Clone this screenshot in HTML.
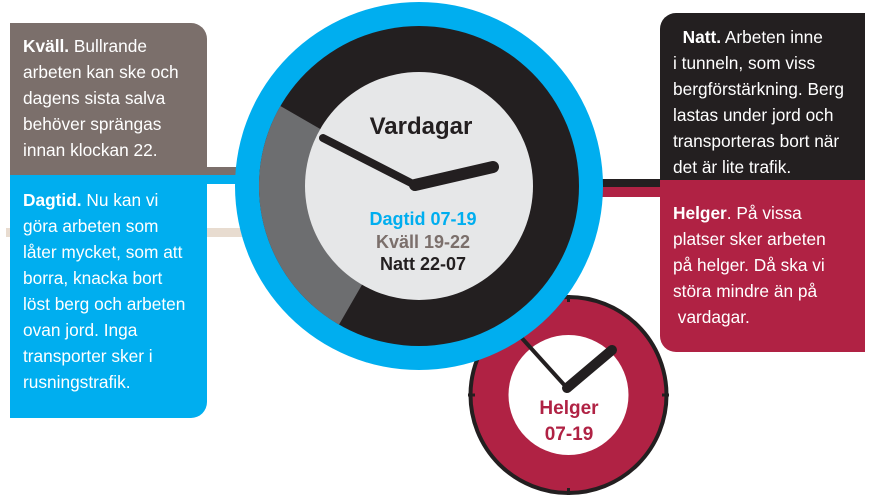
<!DOCTYPE html>
<html><head><meta charset="utf-8"><style>
body{margin:0;width:874px;height:502px;background:#fff;position:relative;overflow:hidden;font-family:"Liberation Sans",sans-serif}
.box{position:absolute;color:#fff;font-size:17.3px;line-height:26px;letter-spacing:0px;box-sizing:border-box}
.box b{font-weight:bold}
</style></head><body>
<div style="position:absolute;left:6px;top:228px;width:240px;height:9px;background:#e8dcd0"></div>
<div style="position:absolute;left:200px;top:167px;width:45px;height:8px;background:#7b6f6b"></div>
<div style="position:absolute;left:200px;top:175px;width:45px;height:9px;background:#00aeef"></div>
<div style="position:absolute;left:595px;top:179px;width:70px;height:8px;background:#231f20"></div>
<div style="position:absolute;left:595px;top:187px;width:70px;height:10px;background:#b02244"></div>
<div class="box" style="left:10px;top:23px;width:197px;height:152px;background:#7b6f6b;border-top-right-radius:16px;padding:10px 0 0 13px"><b>Kväll.</b> Bullrande<br>arbeten kan ske och<br>dagens sista salva<br>behöver sprängas<br>innan klockan 22.</div>
<div class="box" style="left:10px;top:175px;width:197px;height:243px;background:#00aeef;border-bottom-right-radius:16px;padding:12px 0 0 13px"><b>Dagtid.</b> Nu kan vi<br>göra arbeten som<br>låter mycket, som att<br>borra, knacka bort<br>löst berg och arbeten<br>ovan jord. Inga<br>transporter sker i<br>rusningstrafik.</div>
<div class="box" style="left:660px;top:13px;width:205px;height:167px;background:#231f20;border-top-left-radius:16px;padding:11px 0 0 13px">&nbsp;&nbsp;<b>Natt.</b> Arbeten inne<br>i tunneln, som viss<br>bergförstärkning. Berg<br>lastas under jord och<br>transporteras bort när<br>det är lite trafik.</div>
<div class="box" style="left:660px;top:180px;width:205px;height:172px;background:#b02244;border-bottom-left-radius:16px;padding:20px 0 0 13px"><b>Helger</b>. På vissa<br>platser sker arbeten<br>på helger. Då ska vi<br>störa mindre än på<br>&nbsp;vardagar.</div>
<svg width="874" height="502" style="position:absolute;left:0;top:0">
<g>
<circle cx="568.5" cy="395" r="98" fill="#b02244" stroke="#231f20" stroke-width="4"/>
<circle cx="568.5" cy="395" r="60" fill="#fff"/>
<g stroke="#231f20" stroke-width="3"><line x1="568.5" y1="295" x2="568.5" y2="302"/><line x1="568.5" y1="488" x2="568.5" y2="495"/><line x1="468" y1="395" x2="475" y2="395"/><line x1="662" y1="395" x2="669" y2="395"/></g>
<line x1="567" y1="388" x2="510" y2="325" stroke="#231f20" stroke-width="4"/>
<line x1="567" y1="388" x2="612" y2="350" stroke="#231f20" stroke-width="10" stroke-linecap="round"/>
<text x="569" y="414" text-anchor="middle" font-size="19" font-weight="bold" fill="#b02244">Helger</text>
<text x="569" y="440" text-anchor="middle" font-size="19" font-weight="bold" fill="#b02244">07-19</text>
</g>
<circle cx="419" cy="186" r="184" fill="#00aeef"/>
<circle cx="419" cy="186" r="160" fill="#231f20"/>
<path d="M419 186 L280.4 106 A160 160 0 0 0 339 324.6 Z" fill="#6d6e70"/>
<circle cx="419" cy="186" r="114" fill="#e6e7e8"/>
<text x="421" y="134" text-anchor="middle" font-size="24" font-weight="bold" fill="#231f20">Vardagar</text>
<line x1="415" y1="185" x2="323" y2="138" stroke="#231f20" stroke-width="8" stroke-linecap="round"/>
<line x1="415" y1="185" x2="493" y2="167" stroke="#231f20" stroke-width="12" stroke-linecap="round"/>
<text x="423" y="225" text-anchor="middle" font-size="18" font-weight="bold" fill="#00aeef">Dagtid 07-19</text>
<text x="423" y="248" text-anchor="middle" font-size="18" font-weight="bold" fill="#7b6f6b">Kväll 19-22</text>
<text x="423" y="270" text-anchor="middle" font-size="18" font-weight="bold" fill="#231f20">Natt 22-07</text>
</svg>
</body></html>
